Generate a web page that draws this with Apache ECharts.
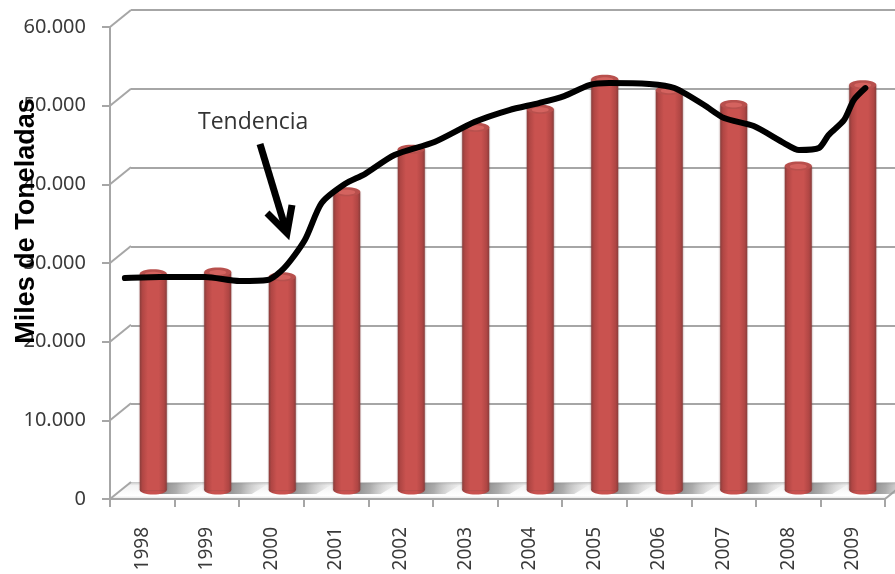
<!DOCTYPE html>
<html><head><meta charset="utf-8">
<style>html,body{margin:0;padding:0;background:#fff}#c{width:895px;height:574px}</style>
<script src="https://cdn.jsdelivr.net/npm/echarts@6/dist/echarts.min.js"></script>
</head><body><div id="c"></div>
<script>
const years = ['1998','1999','2000','2001','2002','2003','2004','2005','2006','2007','2008','2009'];
const production = [27500,27700,27100,37900,43300,46100,48400,52200,50800,49000,41200,51500];
const yTicks = [0,10000,20000,30000,40000,50000,60000];
const trendYears = [1997.56,1998.10,1998.80,1999.34,1999.77,2000.03,2000.35,2000.61,2000.97,2001.28,2001.74,2002.36,2002.98,2003.52,2003.98,2004.37,2004.76,2005.07,2005.69,2006.08,2006.54,2006.85,2007.31,2007.78,2008.01,2008.32,2008.47,2008.71,2008.86,2009.04];
const trendValues = [26945,27072,27072,26564,26691,28216,31775,36478,38893,40164,42579,44231,46773,48298,49188,50077,51476,51730,51603,51094,48934,47281,46264,44104,43214,43468,45121,47027,49569,51094];

const DX = 21, DY = -17, GRAY = '#a6a6a6';
const fmt = v => String(v).replace(/\B(?=(\d{3})+$)/g, '.');
const chart = echarts.init(document.getElementById('c'), null, {renderer:'canvas'});
const hiddenAxis = {show:false};
chart.setOption({
  animation:false,
  backgroundColor:'#fff',
  grid:[
    {left:110, top:27, width:775, height:472},
    {left:121, top:18, width:775, height:472},
    {left:131, top:10, width:764, height:473}
  ],
  xAxis:[
    {type:'category', gridIndex:0, data:years, boundaryGap:true,
      axisLine:{lineStyle:{color:GRAY,width:2}},
      axisTick:{show:true,alignWithLabel:false,length:8,lineStyle:{color:GRAY,width:2}},
      axisLabel:{rotate:90,interval:0,margin:28,color:'#3a3a3a',fontFamily:'Noto Sans',fontSize:19}},
    {type:'category', gridIndex:1, data:years, ...hiddenAxis},
    {type:'value', gridIndex:1, min:1997.5, max:2009.5, ...hiddenAxis},
    {type:'category', gridIndex:2, data:years, ...hiddenAxis}
  ],
  yAxis:[
    {type:'value', gridIndex:0, min:0, max:60000, interval:10000,
      axisLine:{show:true,lineStyle:{color:GRAY,width:2}},
      axisTick:{show:true,length:8,lineStyle:{color:GRAY,width:2}},
      splitLine:{show:false},
      axisLabel:{margin:24,color:'#3a3a3a',fontFamily:'Noto Sans',fontSize:20,formatter:fmt}},
    {type:'value', gridIndex:1, min:0, max:60000, interval:10000, ...hiddenAxis},
    {type:'value', gridIndex:2, min:0, max:60000, interval:10000,
      axisLine:{show:false},axisTick:{show:false},axisLabel:{show:false},
      splitLine:{show:true,lineStyle:{color:GRAY,width:2}}}
  ],
  series:[
    { // floor and slanted wall connectors
      type:'custom', xAxisIndex:0, yAxisIndex:0, z:1, silent:true,
      data:yTicks.map(v=>[0,v]),
      renderItem(params, api){
        const p = api.coord([0, api.value(1)]);
        const x0 = params.coordSys.x, y = p[1], right = x0 + params.coordSys.width;
        const kids = [];
        if (api.value(1) === 0) {
          kids.push({type:'polygon',
            shape:{points:[[x0,y],[x0+DX,y+DY],[right+DX,y+DY],[right,y]]},
            style:{fill:{type:'linear',x:0,y:0,x2:0,y2:1,colorStops:[
              {offset:0,color:'#c4c4c4'},{offset:.2,color:'#f2f2f2'},{offset:.8,color:'#ffffff'},{offset:1,color:'#e2e2e2'}]}}});
          kids.push({type:'line',shape:{x1:x0,y1:y,x2:right,y2:y},style:{stroke:GRAY,lineWidth:2}});
          kids.push({type:'line',shape:{x1:right,y1:y,x2:right+DX,y2:y+DY},style:{stroke:GRAY,lineWidth:2}});
        }
        kids.push({type:'line',shape:{x1:x0,y1:y,x2:x0+DX,y2:y+DY},style:{stroke:GRAY,lineWidth:2}});
        return {type:'group',children:kids};
      }
    },
    { // cylinders with their floor shadows
      type:'custom', xAxisIndex:1, yAxisIndex:1, z:3, silent:true,
      data:production.map((v,i)=>[i,v]),
      encode:{x:0,y:1},
      renderItem(params, api){
        const top = api.coord([api.value(0), api.value(1)]);
        const base = api.coord([api.value(0), 0]);
        const w = 27, rx = w/2, ry = 4.5, cx = top[0];
        const body = {type:'linear',x:0,y:0,x2:1,y2:0,colorStops:[
          {offset:0,color:'#8a3d3b'},{offset:.1,color:'#b04644'},{offset:.3,color:'#c9524f'},
          {offset:.7,color:'#c9524f'},{offset:.9,color:'#b04644'},{offset:1,color:'#8a3d3b'}]};
        return {type:'group',children:[
          {type:'polygon',shape:{points:[[cx,base[1]-7],[cx+52,base[1]-7],[cx+34,base[1]+4],[cx,base[1]+4]]},
            style:{fill:{type:'linear',x:0,y:0,x2:1,y2:0.35,colorStops:[
              {offset:0,color:'rgba(110,110,110,.95)'},{offset:.45,color:'rgba(140,140,140,.7)'},{offset:1,color:'rgba(200,200,200,0)'}]}}},
          {type:'ellipse',shape:{cx,cy:base[1],rx,ry},style:{fill:body}},
          {type:'rect',shape:{x:cx-rx,y:top[1],width:w,height:base[1]-top[1]},
            style:{fill:body,shadowBlur:2,shadowColor:'rgba(120,70,70,.6)'}},
          {type:'ellipse',shape:{cx,cy:top[1],rx,ry},style:{fill:'#b8504d'}},
          {type:'ellipse',shape:{cx,cy:top[1]+.5,rx:rx-5,ry:ry-2},style:{fill:'#d4635f'}}
        ]};
      }
    },
    { // hand-drawn trend
      type:'line', name:'Tendencia', xAxisIndex:2, yAxisIndex:1, z:5, smooth:0.25,
      showSymbol:false, silent:true, clip:false,
      data:trendYears.map((y,i)=>[y,trendValues[i]]),
      lineStyle:{color:'#000',width:6,cap:'round',join:'round'}
    }
  ],
  graphic:[
    {type:'text',z:10,x:27,y:221,rotation:Math.PI/2,
      style:{text:'Miles de Toneladas',fill:'#000',font:'bold 27px "Liberation Sans"',align:'center',verticalAlign:'middle'}},
    {type:'text',z:10,x:198,y:122,
      style:{text:'Tendencia',fill:'#333',font:'23px "Open Sans"',align:'left',verticalAlign:'middle'}},
    {type:'polyline',z:10,shape:{points:[[260,144],[286,230]]},style:{stroke:'#000',lineWidth:7,fill:null}},
    {type:'polyline',z:10,shape:{points:[[267,213],[287,233],[292,205]]},style:{stroke:'#000',lineWidth:7,fill:null}}
  ]
});
</script></body></html>
